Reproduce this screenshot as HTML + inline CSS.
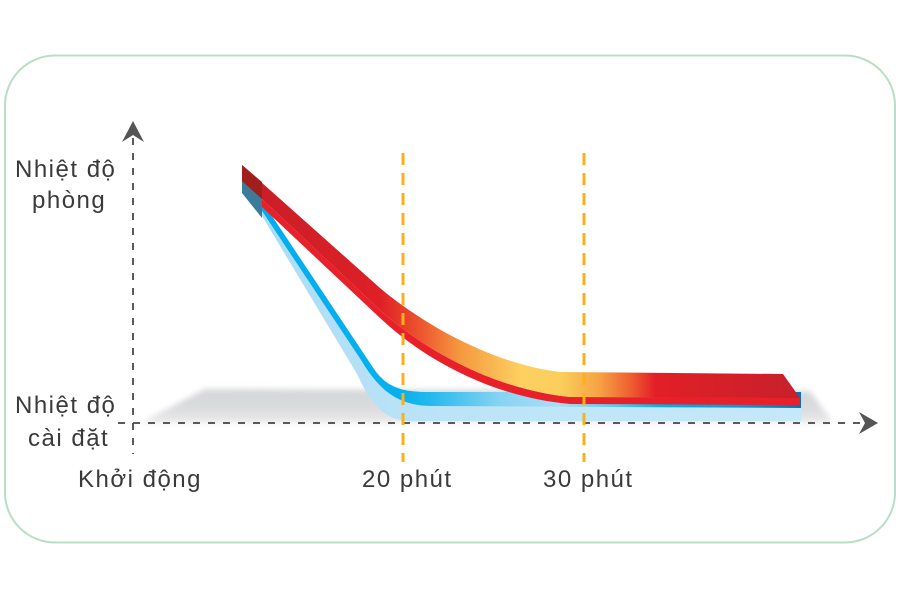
<!DOCTYPE html>
<html>
<head>
<meta charset="utf-8">
<style>
  html,body{margin:0;padding:0;background:#ffffff;}
  svg{display:block;}
  .lbl{font-family:"Liberation Sans","DejaVu Sans",sans-serif;font-size:24px;letter-spacing:1.5px;fill:#3a3a3a;}
</style>
</head>
<body>
<svg width="900" height="600" viewBox="0 0 900 600" xmlns="http://www.w3.org/2000/svg">
  <defs>
    <linearGradient id="redTop" gradientUnits="userSpaceOnUse" x1="242" y1="0" x2="800" y2="0">
      <stop offset="0" stop-color="#c61f28"/>
      <stop offset="0.247" stop-color="#df1f26"/>
      <stop offset="0.32" stop-color="#ec552e"/>
      <stop offset="0.39" stop-color="#f5983e"/>
      <stop offset="0.5" stop-color="#fdd060"/>
      <stop offset="0.57" stop-color="#fbcf5c"/>
      <stop offset="0.64" stop-color="#f6a244"/>
      <stop offset="0.7" stop-color="#ee5a30"/>
      <stop offset="0.74" stop-color="#e21f26"/>
      <stop offset="1" stop-color="#c6212b"/>
    </linearGradient>
    <linearGradient id="blueTop" gradientUnits="userSpaceOnUse" x1="262" y1="0" x2="801" y2="0">
      <stop offset="0" stop-color="#00aeef"/>
      <stop offset="0.26" stop-color="#06b0ee"/>
      <stop offset="0.31" stop-color="#22b8ee"/>
      <stop offset="0.44" stop-color="#86d3f3"/>
      <stop offset="0.55" stop-color="#a9def6"/>
      <stop offset="0.66" stop-color="#5ac7f1"/>
      <stop offset="0.74" stop-color="#00b1ec"/>
      <stop offset="0.88" stop-color="#0a9ad9"/>
      <stop offset="1" stop-color="#0b6fb5"/>
    </linearGradient>
    <linearGradient id="blueFront" gradientUnits="userSpaceOnUse" x1="262" y1="0" x2="801" y2="0">
      <stop offset="0" stop-color="#abdcf4"/>
      <stop offset="0.3" stop-color="#bbe3f7"/>
      <stop offset="1" stop-color="#c6e9f9"/>
    </linearGradient>
    <linearGradient id="shadowG" x1="0" y1="0" x2="0" y2="1">
      <stop offset="0" stop-color="#d6d7d9"/>
      <stop offset="0.5" stop-color="#d9dadc"/>
      <stop offset="1" stop-color="#ebebec"/>
    </linearGradient>
    <filter id="blur" x="-10%" y="-50%" width="120%" height="200%">
      <feGaussianBlur stdDeviation="3"/>
    </filter>
  </defs>

  <!-- rounded frame -->
  <rect x="5" y="55.5" width="890" height="487" rx="50" ry="50" fill="#ffffff" stroke="#b8dfc6" stroke-width="2"/>

  <!-- floor shadow -->
  <polygon points="140,423 205,389 810,391 832,421 832,423" fill="url(#shadowG)" filter="url(#blur)"/>

  <!-- axes -->
  <line x1="133" y1="138" x2="133" y2="454" stroke="#5a5a5a" stroke-width="2" stroke-dasharray="7 8"/>
  <path d="M133,121 L144,142 L133,135 L122,142 Z" fill="#555555"/>
  <line x1="118" y1="423" x2="866" y2="423" stroke="#5a5a5a" stroke-width="2" stroke-dasharray="7 8"/>
  <path d="M878,423 L859,412 L865,423 L859,434 Z" fill="#555555"/>

  <!-- blue ribbon -->
  <path d="M262,216 L357,374 C367,395 380,420 408,421 L801,421 L801,408 L432,406 C394,406 376,385 361,360 L262,211 Z" fill="url(#blueFront)"/>
  <path d="M262,201 L372,366 C384,385 398,392 427,392 L801,392 L801,408 L432,406 C394,406 376,385 361,360 L262,211 Z" fill="url(#blueTop)"/>
  <polygon points="242,180 262,197 262,218 242,193" fill="#3d7b9a"/>

  <!-- red ribbon -->
  <path d="M262,199 L380,310 C430,355 500,390 570,397 L800,398 L800,405 L570,404 C500,398 430,365 380,318 L262,207 Z" fill="#e8202a"/>
  <path d="M242,165 L380,288 C430,330 500,365 560,372 L783,374 L800,398 L570,397 C500,390 430,355 380,310 L262,199 L242,181 Z" fill="url(#redTop)"/>
  <polygon points="242,165 262,182 262,199 242,181" fill="#9e1f1b"/>

  <!-- orange time markers -->
  <line x1="403" y1="153" x2="403" y2="462" stroke="#fbb01a" stroke-width="3" stroke-dasharray="12 8"/>
  <line x1="584" y1="153" x2="584" y2="462" stroke="#fbb01a" stroke-width="3" stroke-dasharray="12 8"/>

  <!-- labels -->
  <text class="lbl" x="15" y="177">Nhiệt độ</text>
  <text class="lbl" x="32" y="208">phòng</text>
  <text class="lbl" x="15" y="413">Nhiệt độ</text>
  <text class="lbl" x="28" y="446">cài đặt</text>
  <text class="lbl" x="78" y="487">Khởi động</text>
  <text class="lbl" x="362" y="487">20 phút</text>
  <text class="lbl" x="543" y="487">30 phút</text>
</svg>
</body>
</html>
